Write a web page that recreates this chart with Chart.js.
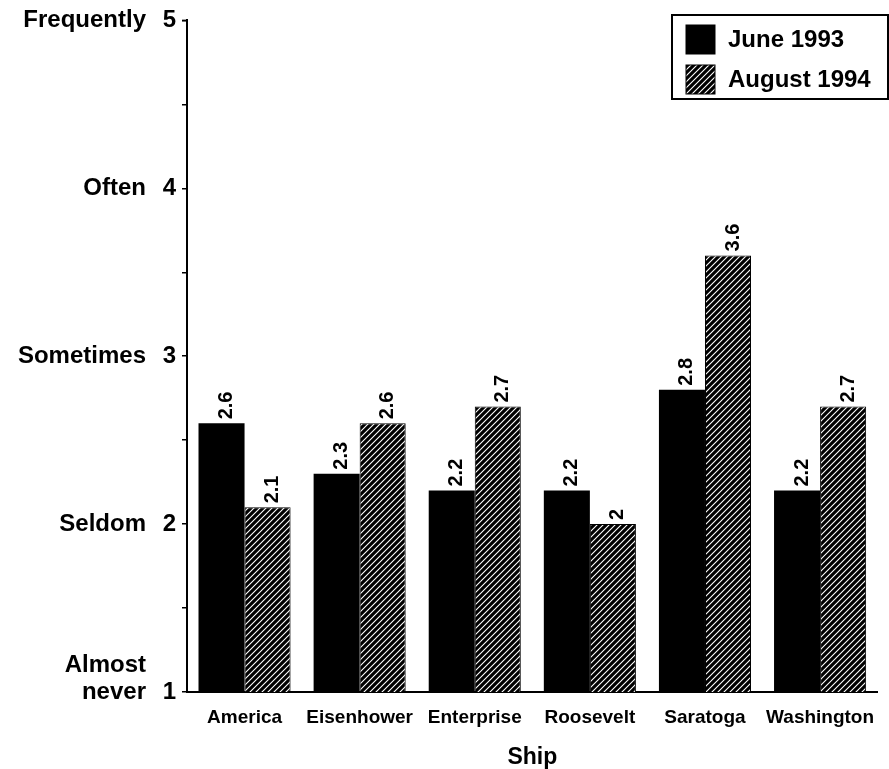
<!DOCTYPE html>
<html>
<head>
<meta charset="utf-8">
<script src="https://cdn.jsdelivr.net/npm/chart.js@4"></script>
<style>
  html, body { margin: 0; padding: 0; background: #fff; }
  #wrap { width: 889px; height: 769px; position: relative; }
</style>
</head>
<body>
<div id="wrap"><canvas id="chart" width="889" height="769"></canvas></div>
<script>
const ships = ['America', 'Eisenhower', 'Enterprise', 'Roosevelt', 'Saratoga', 'Washington'];
const june1993 = [2.6, 2.3, 2.2, 2.2, 2.8, 2.2];
const august1994 = [2.1, 2.6, 2.7, 2.0, 3.6, 2.7];
const seriesNames = ['June 1993', 'August 1994'];
const yWords = { 5: ['Frequently'], 4: ['Often'], 3: ['Sometimes'], 2: ['Seldom'], 1: ['Almost', 'never'] };

const FONT = '"Liberation Sans", Arial, Helvetica, sans-serif';

// diagonal white stripes on black
function makeHatch() {
  const c = document.createElement('canvas');
  c.width = 6; c.height = 6;
  const g = c.getContext('2d');
  g.fillStyle = '#000';
  g.fillRect(0, 0, 6, 6);
  g.strokeStyle = '#fff';
  g.lineWidth = 1.1;
  g.beginPath();
  g.moveTo(-1, 7); g.lineTo(7, -1);
  g.moveTo(-4, 4); g.lineTo(4, -4);
  g.moveTo(2, 10); g.lineTo(10, 2);
  g.stroke();
  return g.createPattern(c, 'repeat');
}
const hatch = makeHatch();

const valueLabels = {
  id: 'valueLabels',
  afterDatasetsDraw(chart) {
    const ctx = chart.ctx;
    ctx.save();
    ctx.fillStyle = '#000';
    ctx.font = 'bold 20px ' + FONT;
    ctx.textAlign = 'left';
    ctx.textBaseline = 'middle';
    chart.data.datasets.forEach((ds, i) => {
      chart.getDatasetMeta(i).data.forEach((bar, j) => {
        ctx.save();
        ctx.translate(bar.x + 5, bar.y - 4);
        ctx.rotate(-Math.PI / 2);
        ctx.fillText(String(ds.data[j]), 0, 0);
        ctx.restore();
      });
    });
    ctx.restore();
  }
};

const yWordLabels = {
  id: 'yWordLabels',
  afterDraw(chart) {
    const ctx = chart.ctx;
    const y = chart.scales.y;
    ctx.save();
    ctx.fillStyle = '#000';
    ctx.font = 'bold 24px ' + FONT;
    ctx.textAlign = 'right';
    ctx.textBaseline = 'middle';
    Object.keys(yWords).forEach(k => {
      const lines = yWords[k];
      const py = y.getPixelForValue(Number(k));
      lines.forEach((t, n) => {
        ctx.fillText(t, 146, py - (lines.length - 1 - n) * 27);
      });
    });
    // small hook at top of the axis
    ctx.strokeStyle = '#000';
    ctx.lineWidth = 1.5;
    ctx.beginPath();
    ctx.moveTo(y.right - 5, y.top);
    ctx.lineTo(y.right, y.top);
    ctx.stroke();
    ctx.restore();
  }
};

const legendBox = {
  id: 'legendBox',
  afterDraw(chart) {
    const ctx = chart.ctx;
    ctx.save();
    const bx = 672, by = 15, bw = 216, bh = 84;
    ctx.fillStyle = '#fff';
    ctx.fillRect(bx, by, bw, bh);
    ctx.strokeStyle = '#000';
    ctx.lineWidth = 2;
    ctx.strokeRect(bx, by, bw, bh);
    ctx.font = 'bold 24px ' + FONT;
    ctx.textAlign = 'left';
    ctx.textBaseline = 'middle';
    chart.data.datasets.forEach((ds, i) => {
      const sy = by + 10 + i * 40;
      ctx.fillStyle = ds.backgroundColor;
      ctx.fillRect(bx + 14, sy, 29, 29);
      ctx.strokeStyle = '#000';
      ctx.lineWidth = 1;
      ctx.strokeRect(bx + 14, sy, 29, 29);
      ctx.fillStyle = '#000';
      ctx.fillText(ds.label, bx + 56, sy + 15);
    });
    ctx.restore();
  }
};

new Chart(document.getElementById('chart'), {
  type: 'bar',
  data: {
    labels: ships,
    datasets: [
      { label: seriesNames[0], data: june1993, backgroundColor: '#000', borderColor: '#000', borderWidth: 0 },
      { label: seriesNames[1], data: august1994, backgroundColor: hatch, borderColor: '#000', borderWidth: 1 }
    ]
  },
  options: {
    responsive: false,
    animation: false,
    layout: { padding: { top: 20, right: 11, left: 0, bottom: 0 } },
    datasets: { bar: { categoryPercentage: 0.8, barPercentage: 1.0 } },
    plugins: { legend: { display: false }, tooltip: { enabled: false } },
    scales: {
      x: {
        grid: { display: false, drawTicks: false },
        border: { display: true, color: '#000', width: 2 },
        ticks: { color: '#000', font: { family: FONT, size: 19, weight: 'bold' }, padding: 14, maxRotation: 0, autoSkip: false },
        title: { display: true, text: 'Ship', color: '#000', font: { family: FONT, size: 23, weight: 'bold', lineHeight: 1 }, padding: { top: 0, bottom: 0 } },
        afterFit(s) { s.height = 77; }
      },
      y: {
        min: 1, max: 5,
        ticks: {
          stepSize: 0.5,
          color: '#000',
          font: { family: FONT, size: 24, weight: 'bold' },
          padding: 6,
          callback: v => Number.isInteger(v) ? String(v) : ''
        },
        grid: {
          drawOnChartArea: false,
          color: '#000',
          tickLength: 5,
          lineWidth: 1.5
        },
        border: { display: true, color: '#000', width: 2 },
        afterFit(s) { s.width = 187; }
      }
    }
  },
  plugins: [valueLabels, yWordLabels, legendBox]
});
</script>
</body>
</html>
